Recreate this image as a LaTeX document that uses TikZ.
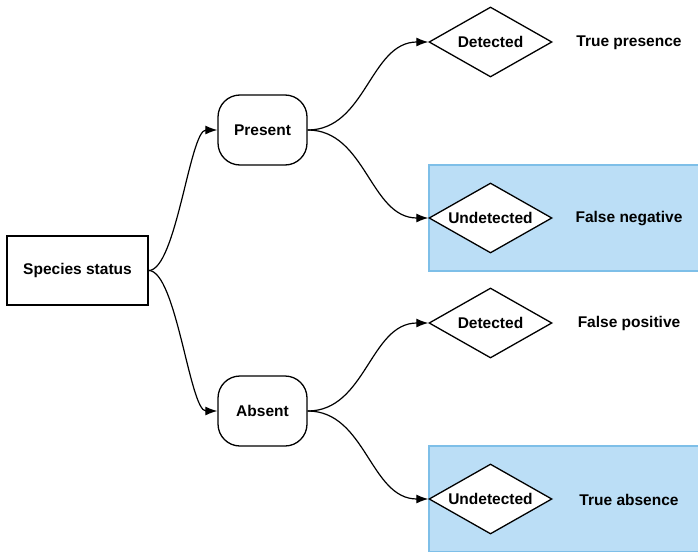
\documentclass[tikz,border=0pt]{standalone}
\usepackage{fontspec}
\setmainfont{Liberation Sans}
\usetikzlibrary{shapes.geometric,arrows.meta}

\definecolor{boxfill}{HTML}{BBDEF6}
\definecolor{boxline}{HTML}{7EBFE8}

\begin{document}
\begin{tikzpicture} [x=1pt,y=-1pt,
  every node/.style={font=\fontsize{15.5}{18}\selectfont\bfseries},
  status/.style={draw, line width=1.3pt, minimum width=141pt, minimum height=69pt},
  branch/.style={draw, line width=1.3pt, rounded corners=22pt, minimum width=89pt, minimum height=70pt},
  test/.style={draw, fill=white, line width=1.3pt, diamond, aspect=1.757, inner sep=0pt,
    minimum width=123pt, minimum height=70pt},
  link/.style={line width=1.2pt, -{Latex[length=12pt,width=9pt]}},
  shade/.style={fill=boxfill, draw=boxline, line width=1.3pt}]

\useasboundingbox (0,0) rectangle (698,551);

%\draw [step=50, dotted] (0,0) grid (698,551);

% shaded outcomes
\draw [shade] (429,165) rectangle (698.5,271);
\draw [shade] (429,446) rectangle (698.5,551.5);

\node [status] (species) at (77.5,270.5) {Species status};

\node [branch] (present) at (262.5,130) {Present};
\node [branch] (absent) at (262.5,411) {Absent};

\node [test] (det1) at (490.5,42) {Detected};
\node [test] (undet1) at (490.5,218) {Undetected};
\node [test] (det2) at (490.5,323) {Detected};
\node [test] (undet2) at (490.5,499) {Undetected};

\node (tp) at (629,42.5) {True presence};
\node (fn) at (629,218.5) {False negative};
\node (fp) at (629,323.5) {False positive};
\node (ta) at (629,499.5) {True absence};

\draw [link] (species.east) to [out=0,in=180,looseness=0.45] (present.west);
\draw [link] (species.east) to [out=0,in=180,looseness=0.45] (absent.west);
\draw [link] (present.east) to [out=0,in=180] (det1.west);
\draw [link] (present.east) to [out=0,in=180] (undet1.west);
\draw [link] (absent.east) to [out=0,in=180] (det2.west);
\draw [link] (absent.east) to [out=0,in=180] (undet2.west);

\end{tikzpicture}
\end{document}
